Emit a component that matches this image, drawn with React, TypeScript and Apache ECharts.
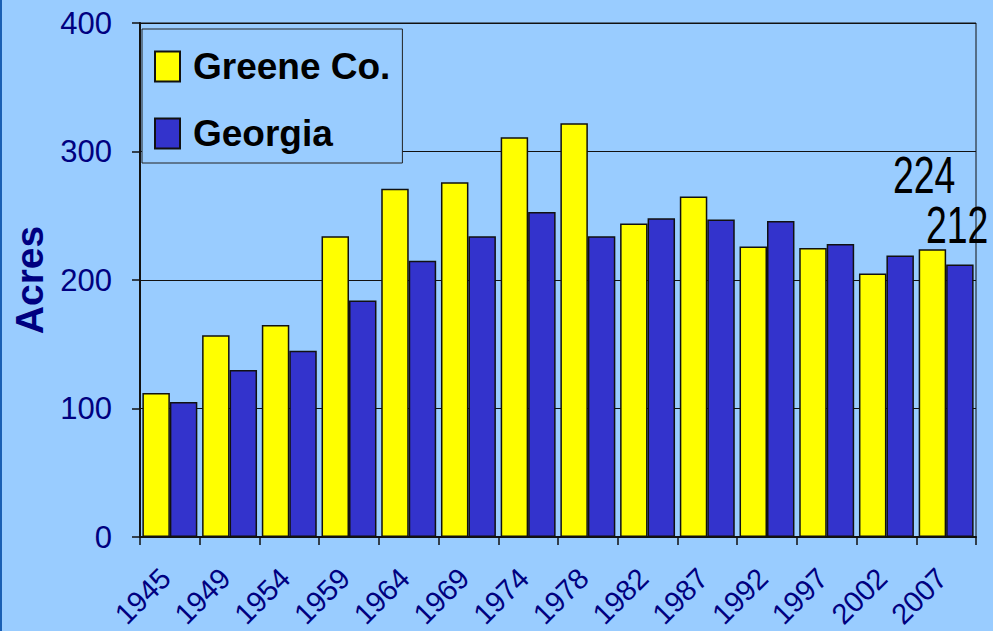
import React, { useEffect, useRef } from "react";
import * as echarts from "echarts";

const years = ["1945", "1949", "1954", "1959", "1964", "1969", "1974", "1978", "1982", "1987", "1992", "1997", "2002", "2007"];
const greene = [112, 157, 165, 234, 271, 276, 311, 322, 244, 265, 226, 225, 205, 224];
const georgia = [105, 130, 145, 184, 215, 234, 253, 234, 248, 247, 246, 228, 219, 212];
const seriesNames = ["Greene Co.", "Georgia"];
const yTicks = { min: 0, max: 400, interval: 100 };

const SANS = "'Liberation Sans', Arial, sans-serif";

export default function App() {
  const ref = useRef<HTMLDivElement>(null);
  useEffect(() => {
    if (!ref.current) return;
    const chart = echarts.init(ref.current, null, { renderer: "svg" });
    const last = years.length - 1;
    chart.setOption({
      animation: false,
      backgroundColor: "#99CCFF",
      grid: {
        left: 140,
        right: 17,
        top: 23,
        bottom: 94,
        outerBoundsMode: "none",
        containLabel: false,
        show: true,
        borderColor: "#111",
        borderWidth: 1,
        backgroundColor: "transparent",
      },
      legend: {
        orient: "vertical",
        left: 142,
        top: 29,
        padding: [19, 12, 11, 12],
        icon: "rect",
        itemWidth: 25,
        itemHeight: 30,
        itemGap: 30,
        backgroundColor: "#99CCFF",
        borderColor: "#222",
        borderWidth: 1,
        textStyle: { fontFamily: SANS, fontWeight: "bold", fontSize: 37, color: "#000", padding: [0, 0, 0, 8] },
        data: seriesNames,
      },
      xAxis: {
        type: "category",
        data: years,
        axisLine: { lineStyle: { color: "#111", width: 2 } },
        axisTick: { show: true, length: 8, lineStyle: { color: "#111", width: 1.5 } },
        axisLabel: {
          interval: 0,
          rotate: 45,
          margin: 32,
          padding: [0, 6, 0, 0],
          color: "#000080",
          fontFamily: SANS,
          fontSize: 29,
        },
        splitLine: { show: false },
      },
      yAxis: {
        type: "value",
        min: yTicks.min,
        max: yTicks.max,
        interval: yTicks.interval,
        name: "Acres",
        nameLocation: "middle",
        nameGap: 90,
        nameTextStyle: { fontFamily: SANS, fontWeight: "bold", fontSize: 39, color: "#000080" },
        axisLine: { show: true, lineStyle: { color: "#111", width: 2 } },
        axisTick: { show: true, length: 8, lineStyle: { color: "#111", width: 1.5 } },
        axisLabel: { margin: 28, color: "#000080", fontFamily: SANS, fontSize: 31 },
        splitLine: { show: true, lineStyle: { color: "#111", width: 1 } },
      },
      series: [
        {
          name: seriesNames[0],
          type: "bar",
          barGap: "0%",
          barCategoryGap: "8%",
          itemStyle: { color: "#FFFF00", borderColor: "#111", borderWidth: 1.5 },
          data: greene,
        },
        {
          name: seriesNames[1],
          type: "bar",
          itemStyle: { color: "#3333CC", borderColor: "#111", borderWidth: 1.5 },
          data: georgia,
        },
      ],
    });
    const pG = chart.convertToPixel({ xAxisIndex: 0, yAxisIndex: 0 }, [last, greene[last]]) as number[];
    const pB = chart.convertToPixel({ xAxisIndex: 0, yAxisIndex: 0 }, [last, georgia[last]]) as number[];
    const labelStyle = { fontFamily: SANS, fontSize: 52, fill: "#000", textAlign: "center", textVerticalAlign: "middle" };
    chart.setOption({
      graphic: [
        { type: "rect", left: 0, top: 0, shape: { width: 2, height: 631 }, style: { fill: "#1A5FB4" }, silent: true },
        {
          type: "text",
          x: pG[0] - 22,
          y: pG[1] - 74,
          scaleX: 0.72,
          style: { ...labelStyle, text: String(greene[last]) },
          silent: true,
        },
        {
          type: "text",
          x: pB[0] + 11,
          y: pB[1] - 39,
          scaleX: 0.72,
          style: { ...labelStyle, text: String(georgia[last]) },
          silent: true,
        },
      ],
    });
    return () => chart.dispose();
  }, []);
  return <div ref={ref} style={{ position: "fixed", left: 0, top: 0, width: 993, height: 631 }} />;
}
